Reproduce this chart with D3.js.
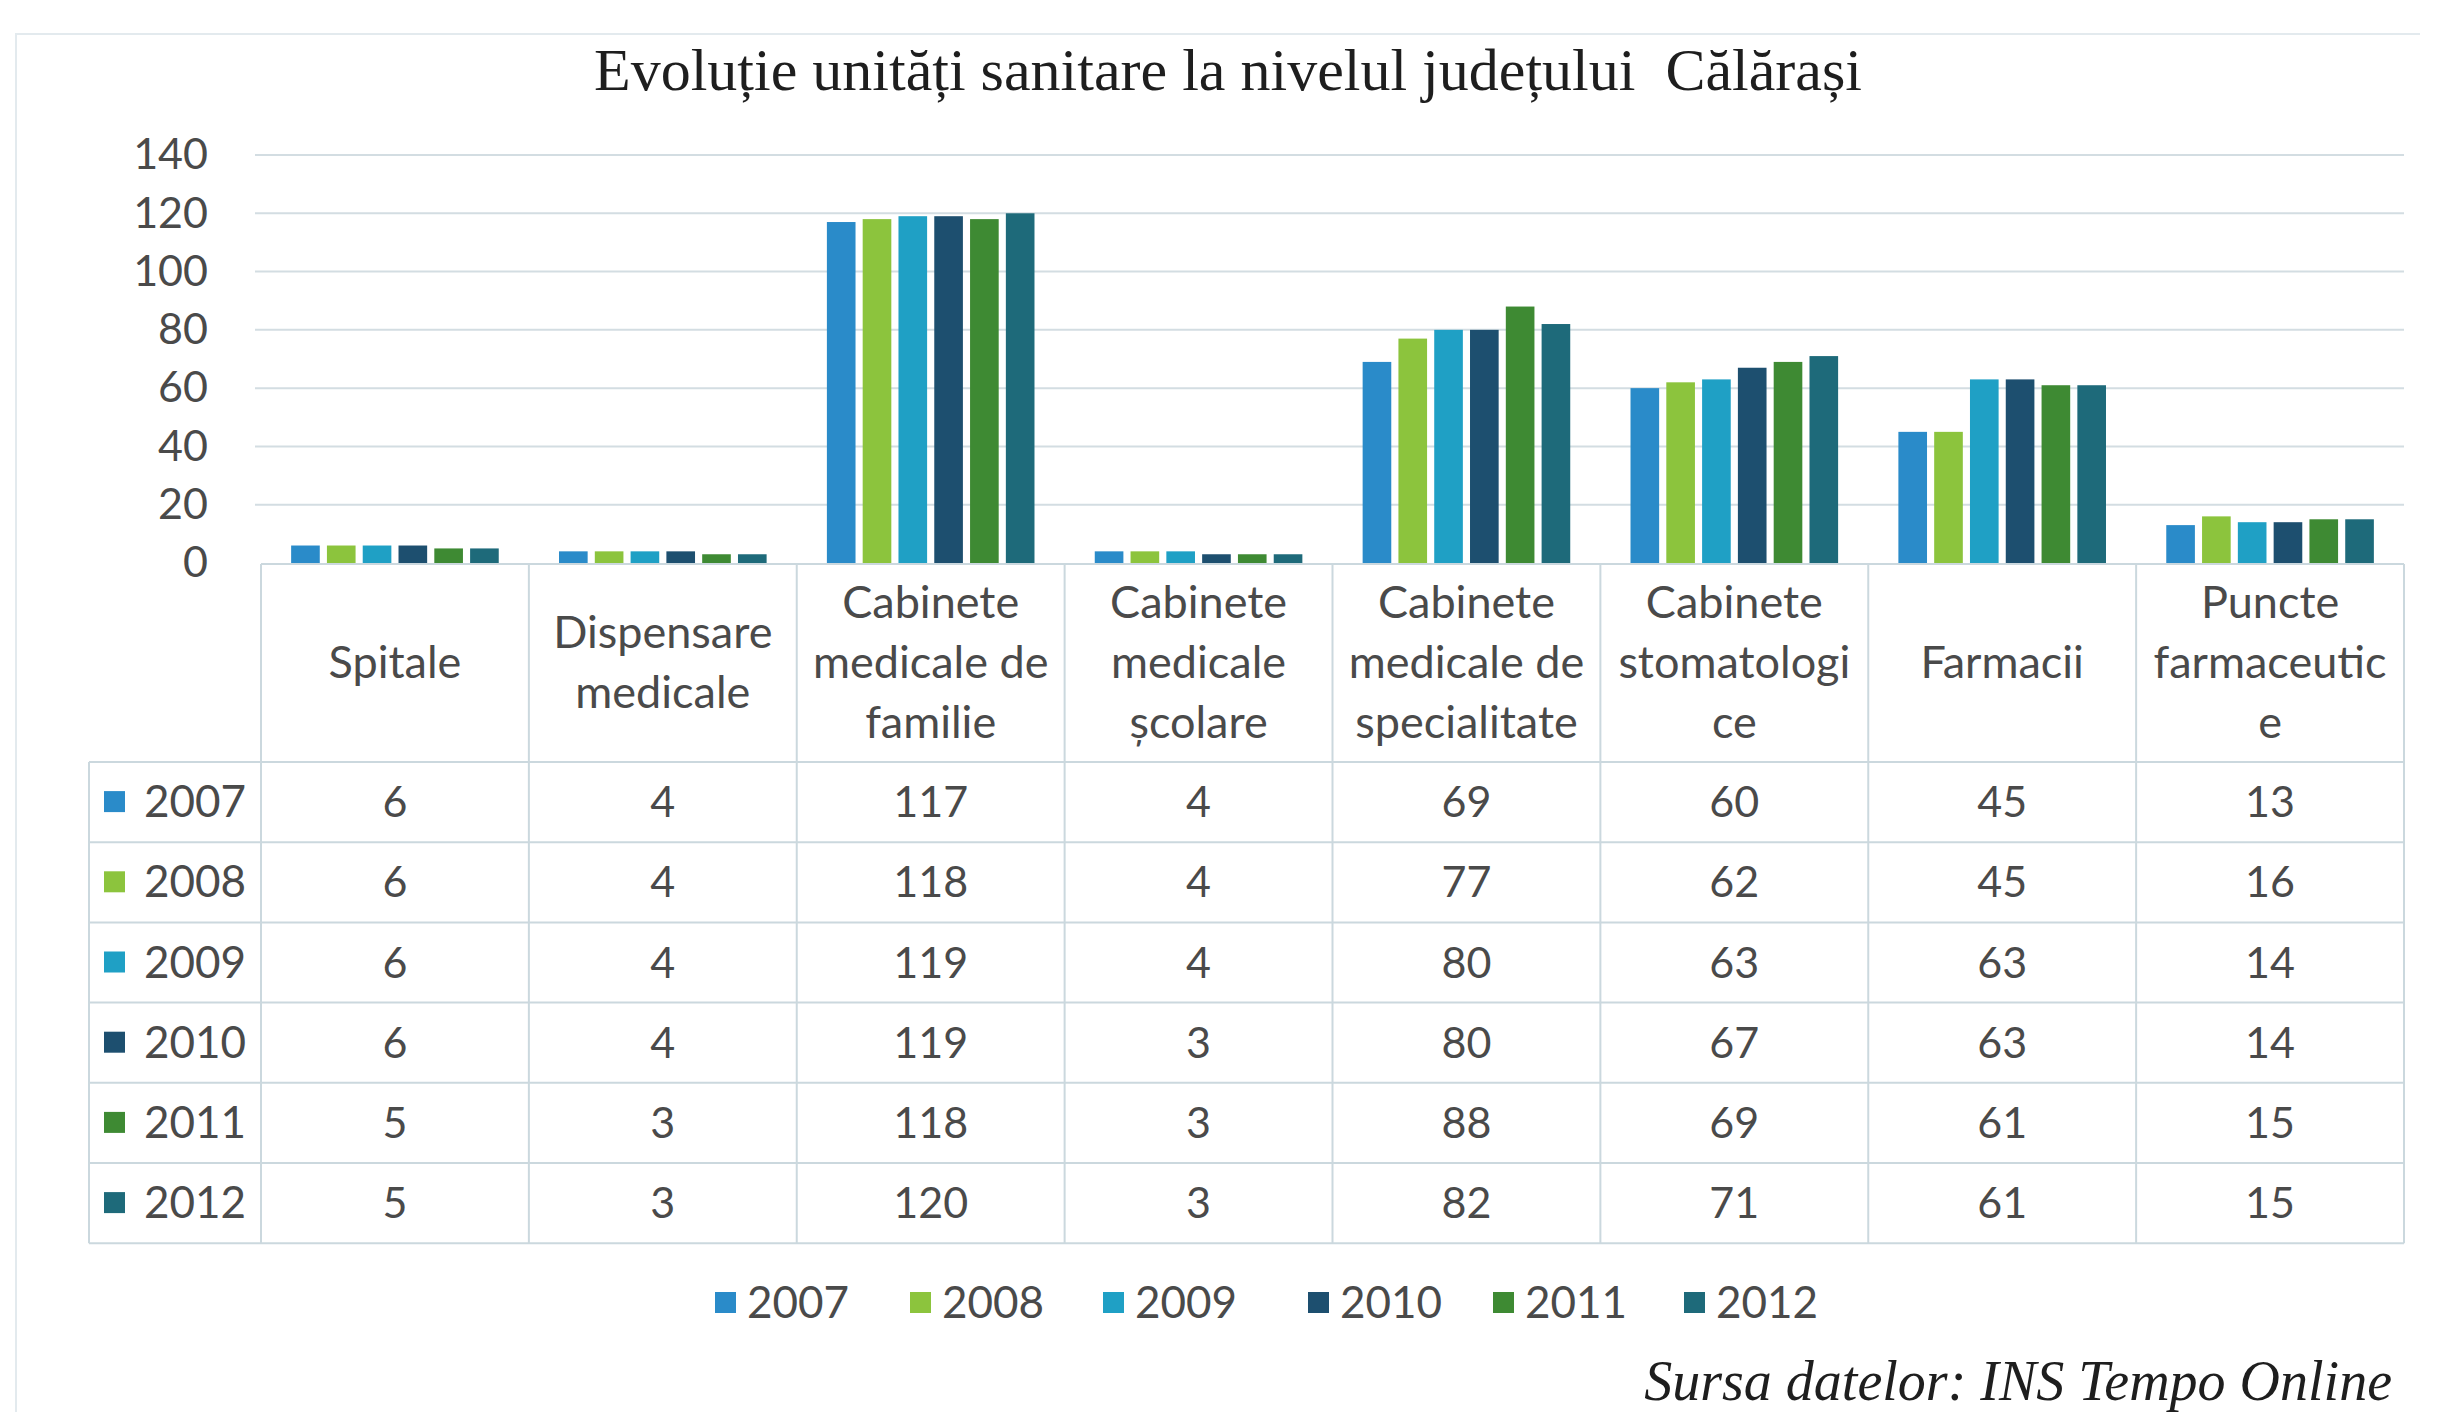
<!DOCTYPE html>
<html>
<head>
<meta charset="utf-8">
<script src="https://cdn.jsdelivr.net/npm/d3@7"></script>
<style>
  html, body { margin: 0; padding: 0; background: #ffffff; }
  svg { display: block; }
  text { white-space: pre; }
</style>
</head>
<body>
<svg id="chart" width="2448" height="1412"></svg>
<script>
// Health units in Călărași county, 2007–2012
const categories = [
  ["Spitale"],
  ["Dispensare", "medicale"],
  ["Cabinete", "medicale de", "familie"],
  ["Cabinete", "medicale", "școlare"],
  ["Cabinete", "medicale de", "specialitate"],
  ["Cabinete", "stomatologi", "ce"],
  ["Farmacii"],
  ["Puncte", "farmaceutic", "e"]
];
const years = ["2007", "2008", "2009", "2010", "2011", "2012"];
const v2007 = [6, 4, 117, 4, 69, 60, 45, 13];
const v2008 = [6, 4, 118, 4, 77, 62, 45, 16];
const v2009 = [6, 4, 119, 4, 80, 63, 63, 14];
const v2010 = [6, 4, 119, 3, 80, 67, 63, 14];
const v2011 = [5, 3, 118, 3, 88, 69, 61, 15];
const v2012 = [5, 3, 120, 3, 82, 71, 61, 15];
const yTicks = [0, 20, 40, 60, 80, 100, 120, 140];
const colors = ["#2a8bc9", "#8cc43d", "#1fa0c5", "#1d4f6f", "#3e8a33", "#1e6a7a"];

const series = [v2007, v2008, v2009, v2010, v2011, v2012];
const catIdx = d3.range(categories.length);

const svg = d3.select("#chart");
const sans = "Lato, 'Open Sans', sans-serif";
const serif = "'Liberation Serif', 'DejaVu Serif', serif";
const gridColor = "#d3dde2";
const tableColor = "#cbd8de";
const textColor = "#4a4a4a";

// faint outer frame of the chart area
svg.append("path")
  .attr("d", "M16,1412 L16,34 L2420,34")
  .attr("fill", "none").attr("stroke", "#e3eaee").attr("stroke-width", 2);

// title
svg.append("text")
  .attr("x", 1228).attr("y", 90)
  .attr("text-anchor", "middle")
  .attr("font-family", serif).attr("font-size", 60)
  .attr("fill", "#1e1e1e")
  .text("Evoluție unități sanitare la nivelul județului  Călărași");

// scales
const left = 261, right = 2404;
const x0 = d3.scaleBand().domain(catIdx).range([left, right]).paddingInner(0.225).paddingOuter(0.1125);
const x1 = d3.scaleBand().domain(d3.range(years.length)).range([0, x0.bandwidth()]).paddingInner(0.2);
const y = d3.scaleLinear().domain([0, 140]).range([563, 155]);
const step = x0.step();

// gridlines
svg.append("g").selectAll("line").data(yTicks.filter(t => t > 0)).join("line")
  .attr("x1", 255).attr("x2", right)
  .attr("y1", d => y(d)).attr("y2", d => y(d))
  .attr("stroke", gridColor).attr("stroke-width", 2);

// y axis labels
const yAxis = d3.axisLeft(y).tickValues(yTicks).tickSize(0).tickPadding(0);
const gy = svg.append("g").attr("transform", "translate(208,0)").call(yAxis);
gy.select(".domain").remove();
gy.selectAll("text")
  .attr("font-family", sans).attr("font-size", 43).attr("fill", textColor);

// bars
const groups = svg.append("g").selectAll("g").data(catIdx).join("g")
  .attr("transform", c => `translate(${x0(c)},0)`);
groups.selectAll("rect")
  .data(c => series.map((s, i) => ({ i, v: s[c] })))
  .join("rect")
  .attr("x", d => x1(d.i))
  .attr("width", x1.bandwidth())
  .attr("y", d => y(d.v))
  .attr("height", d => y(0) - y(d.v))
  .attr("fill", d => colors[d.i]);

// data table
const tableTop = y(0) + 1;
const headerBottom = 762;
const rowH = 80.2;
const tableLeft = 89;
const tableBottom = headerBottom + rowH * years.length;
const tg = svg.append("g");

// horizontal rules
tg.append("line").attr("x1", left).attr("x2", right).attr("y1", tableTop).attr("y2", tableTop)
  .attr("stroke", tableColor).attr("stroke-width", 2);
tg.selectAll("line.row").data(d3.range(years.length + 1)).join("line")
  .attr("class", "row")
  .attr("x1", tableLeft).attr("x2", right)
  .attr("y1", r => headerBottom + r * rowH).attr("y2", r => headerBottom + r * rowH)
  .attr("stroke", tableColor).attr("stroke-width", 2);

// vertical rules
tg.selectAll("line.col").data(d3.range(categories.length + 1)).join("line")
  .attr("class", "col")
  .attr("x1", c => left + c * step).attr("x2", c => left + c * step)
  .attr("y1", tableTop).attr("y2", tableBottom)
  .attr("stroke", tableColor).attr("stroke-width", 2);
tg.append("line").attr("x1", tableLeft).attr("x2", tableLeft)
  .attr("y1", headerBottom).attr("y2", tableBottom)
  .attr("stroke", tableColor).attr("stroke-width", 2);

// header labels
const lineH = 60;
tg.selectAll("text.head").data(catIdx).join("text")
  .attr("class", "head")
  .attr("font-family", sans).attr("font-size", 45).attr("fill", textColor)
  .attr("text-anchor", "middle")
  .each(function (c) {
    const lines = categories[c];
    const cx = left + (c + 0.5) * step;
    const mid = (tableTop + headerBottom) / 2;
    const t = d3.select(this);
    lines.forEach((ln, k) => {
      t.append("tspan")
        .attr("x", cx)
        .attr("y", mid + (k - (lines.length - 1) / 2) * lineH + 15)
        .text(ln);
    });
  });

// row labels with swatches
const rows = tg.selectAll("g.rowlab").data(years).join("g")
  .attr("class", "rowlab")
  .attr("transform", (d, i) => `translate(0,${headerBottom + (i + 0.5) * rowH})`);
rows.append("rect").attr("x", 104).attr("y", -11).attr("width", 21).attr("height", 21)
  .attr("fill", (d, i) => colors[i]);
rows.append("text").attr("x", 144).attr("y", 15)
  .attr("font-family", sans).attr("font-size", 44).attr("fill", textColor)
  .text(d => d);

// cell values
series.forEach((s, i) => {
  tg.append("g").selectAll("text").data(s).join("text")
    .attr("x", (d, c) => left + (c + 0.5) * step)
    .attr("y", headerBottom + (i + 0.5) * rowH + 15)
    .attr("text-anchor", "middle")
    .attr("font-family", sans).attr("font-size", 43).attr("fill", textColor)
    .text(d => d);
});

// legend
const legendX = [715, 910, 1103, 1308, 1493, 1684];
const lg = svg.append("g").selectAll("g").data(years).join("g")
  .attr("transform", (d, i) => `translate(${legendX[i]},1303)`);
lg.append("rect").attr("x", 0).attr("y", -11).attr("width", 21).attr("height", 21)
  .attr("fill", (d, i) => colors[i]);
lg.append("text").attr("x", 32).attr("y", 15)
  .attr("font-family", sans).attr("font-size", 44).attr("fill", textColor)
  .text(d => d);

// source note
svg.append("text")
  .attr("x", 2392).attr("y", 1400)
  .attr("text-anchor", "end")
  .attr("font-family", serif).attr("font-style", "italic").attr("font-size", 56)
  .attr("fill", "#1e1e1e")
  .text("Sursa datelor: INS Tempo Online");
</script>
</body>
</html>
